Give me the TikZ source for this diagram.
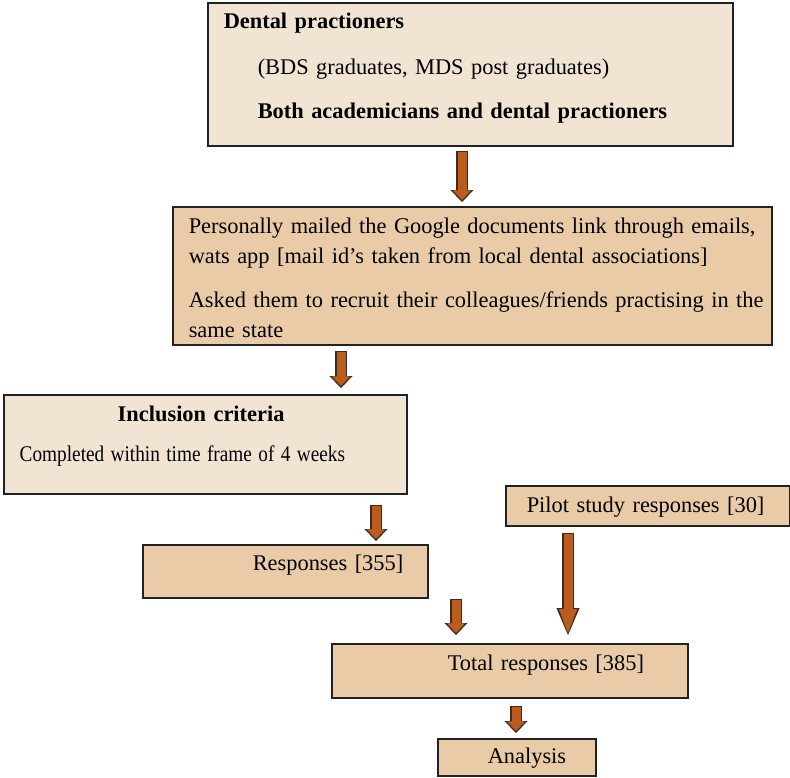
\documentclass[tikz,border=0pt]{standalone}
\usepackage{fontspec}
\usepackage{graphicx}
\setmainfont{Liberation Serif}
\usetikzlibrary{arrows.meta}
\definecolor{lightfill}{HTML}{F2E4D3}
\definecolor{tanfill}{HTML}{E9CBA7}
\definecolor{arrowfill}{HTML}{B95C1E}
\definecolor{arrowedge}{HTML}{3E2B20}
\definecolor{boxline}{HTML}{222222}
\newcommand\flowfont{\fontsize{22.4}{30}\selectfont}

\begin{document}
\begin{tikzpicture}[x=1pt,y=1pt,
		box/.style={draw=boxline,line width=1.5pt,anchor=north west,inner xsep=16pt,inner ysep=0pt,align=left,font=\flowfont},
		lightbox/.style={box,fill=lightfill},
		tanbox/.style={box,fill=tanfill},
		flowarrow/.style 2 args={draw=arrowedge,line width=12pt,-{Triangle[length=#1,width=23pt,line width=.4pt]},
			postaction={draw=arrowfill,line width=9pt,shorten <=1.5pt,shorten >=2pt,-{Triangle[length=#2,width=18pt,line width=.4pt]}}}]
	\useasboundingbox (0,0) rectangle (790,-777);
	\node[lightbox,text width=493pt,text height=26pt,text depth=117pt] (practioners) at (207,-2)
		{\textbf{Dental practioners}\\[16pt]\hspace*{34pt}(BDS graduates, MDS post graduates)\\[14pt]\hspace*{34pt}\textbf{Both academicians and dental practioners}};
	\node[tanbox,text width=567pt,text height=27pt,text depth=111pt] (mailed) at (172,-206)
		{\mbox{Personally mailed the Google documents link through emails,}\\\mbox{wats app [mail id’s taken from local dental associations]}\\[14pt]\mbox{Asked them to recruit their colleagues/friends practising in the}\\same state};
	\node[lightbox,text width=371pt,text height=27pt,text depth=72pt] (inclusion) at (3,-394)
		{\hspace*{98pt}\textbf{Inclusion criteria}\\[10pt]\scalebox{0.86}[1]{Completed within time frame of 4 weeks}};
	\node[tanbox,text width=252pt,text height=27pt,text depth=13pt] (pilot) at (505,-485)
		{\hspace*{5pt}Pilot study responses [30]};
	\node[tanbox,text width=253pt,text height=26pt,text depth=27pt] (responses) at (142,-544)
		{\hspace*{94pt}Responses [355]};
	\node[tanbox,text width=324pt,text height=27pt,text depth=27pt] (total) at (331,-643)
		{\hspace*{100pt}Total responses [385]};
	\node[tanbox,text width=126pt,text height=25pt,text depth=12pt] (analysis) at (437,-738)
		{\hspace*{34pt}Analysis};
	\draw[flowarrow={12pt}{9.6pt}] ([shift={(255,-4)}]practioners.south west) -- ([shift={(290,4)}]mailed.north west);
	\draw[flowarrow={12pt}{9.6pt}] ([shift={(169,-5)}]mailed.south west) -- ([shift={(338,6)}]inclusion.north west);
	\draw[flowarrow={12pt}{9.6pt}] ([shift={(373,-10)}]inclusion.south west) -- ([shift={(234,3)}]responses.north west);
	\draw[flowarrow={12pt}{9.6pt}] ([shift={(314,0)}]responses.south west) -- ([shift={(125,8)}]total.north west);
	\draw[flowarrow={27pt}{24pt}] ([shift={(63,-6)}]pilot.south west) -- ([shift={(237,8)}]total.north west);
	\draw[flowarrow={12pt}{9.6pt}] ([shift={(185,-7)}]total.south west) -- ([shift={(79,5)}]analysis.north west);
\end{tikzpicture}
\end{document}
